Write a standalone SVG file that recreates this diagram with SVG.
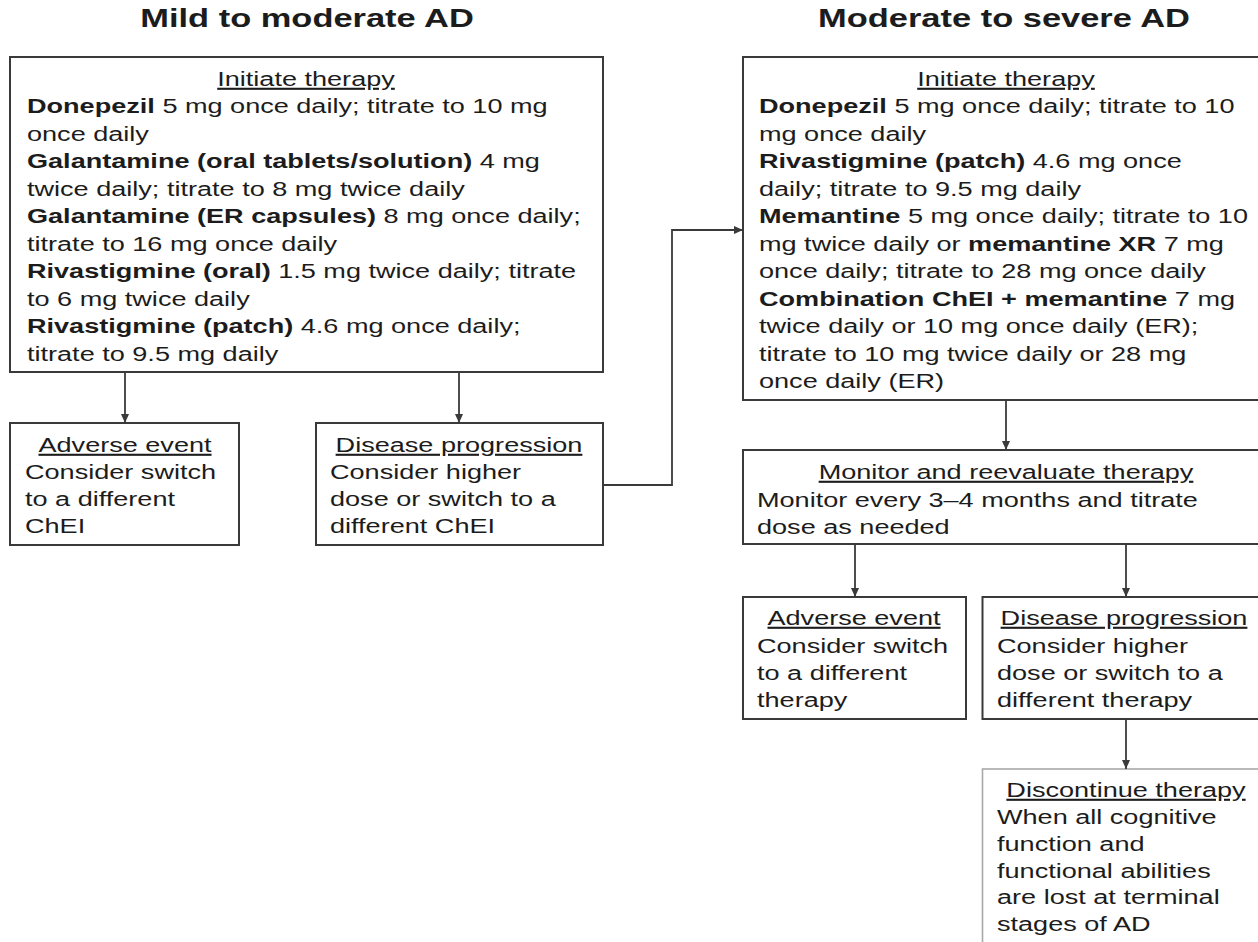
<svg xmlns="http://www.w3.org/2000/svg" width="1258" height="942" viewBox="0 0 1258 942">
<style>
  .bg { fill: #ffffff; }
  .box { fill: #ffffff; stroke: #3a3a3a; stroke-width: 2; }
  .box-light { fill: #ffffff; stroke: #a8a8a8; stroke-width: 1.6; }
  .t { font-family: "Liberation Sans", Arial, sans-serif; font-size: 21px; fill: #1c1c1c; }
  .h { font-family: "Liberation Sans", Arial, sans-serif; font-size: 21px; fill: #1c1c1c; text-anchor: middle; text-decoration: underline; }
  .title { font-family: "Liberation Sans", Arial, sans-serif; font-size: 26.5px; font-weight: 700; fill: #1c1c1c; text-anchor: middle; }
  .b { font-weight: 700; }
  .conn { fill: none; stroke: #3a3a3a; stroke-width: 1.8; }
</style>
<defs>
  <marker id="arrow" markerUnits="userSpaceOnUse" markerWidth="9" markerHeight="8" refX="9" refY="4" orient="auto">
    <path d="M0,0 L9,4 L0,8 z" fill="#3a3a3a"/>
  </marker>
</defs>
<rect class="bg" x="0" y="0" width="1258" height="942"/>

<g id="titles">
  <text class="title" transform="translate(307 27) scale(1.3 1)">Mild to moderate AD</text>
  <text class="title" transform="translate(1004 27) scale(1.3 1)">Moderate to severe AD</text>
</g>

<g id="mild-initiate">
  <rect class="box" x="10" y="57" width="593" height="315"/>
  <text class="h" transform="translate(306 86) scale(1.29 1)">Initiate therapy</text>
  <text class="t" transform="translate(27 113) scale(1.29 1)"><tspan class="b">Donepezil</tspan> 5 mg once daily; titrate to 10 mg</text>
  <text class="t" transform="translate(27 140.5) scale(1.29 1)">once daily</text>
  <text class="t" transform="translate(27 168) scale(1.29 1)"><tspan class="b">Galantamine (oral tablets/solution)</tspan> 4 mg</text>
  <text class="t" transform="translate(27 195.5) scale(1.29 1)">twice daily; titrate to 8 mg twice daily</text>
  <text class="t" transform="translate(27 223) scale(1.29 1)"><tspan class="b">Galantamine (ER capsules)</tspan> 8 mg once daily;</text>
  <text class="t" transform="translate(27 250.5) scale(1.29 1)">titrate to 16 mg once daily</text>
  <text class="t" transform="translate(27 278) scale(1.29 1)"><tspan class="b">Rivastigmine (oral)</tspan> 1.5 mg twice daily; titrate</text>
  <text class="t" transform="translate(27 305.5) scale(1.29 1)">to 6 mg twice daily</text>
  <text class="t" transform="translate(27 333) scale(1.29 1)"><tspan class="b">Rivastigmine (patch)</tspan> 4.6 mg once daily;</text>
  <text class="t" transform="translate(27 360.5) scale(1.29 1)">titrate to 9.5 mg daily</text>
</g>

<g id="mild-adverse">
  <rect class="box" x="10" y="423" width="229" height="122"/>
  <text class="h" transform="translate(125 452) scale(1.29 1)">Adverse event</text>
  <text class="t" transform="translate(25 479) scale(1.29 1)">Consider switch</text>
  <text class="t" transform="translate(25 506) scale(1.29 1)">to a different</text>
  <text class="t" transform="translate(25 533) scale(1.29 1)">ChEI</text>
</g>

<g id="mild-progression">
  <rect class="box" x="316" y="423" width="287" height="122"/>
  <text class="h" transform="translate(459 452) scale(1.29 1)">Disease progression</text>
  <text class="t" transform="translate(330 479) scale(1.29 1)">Consider higher</text>
  <text class="t" transform="translate(330 506) scale(1.29 1)">dose or switch to a</text>
  <text class="t" transform="translate(330 533) scale(1.29 1)">different ChEI</text>
</g>

<g id="severe-initiate">
  <rect class="box" x="743" y="57" width="530" height="343"/>
  <text class="h" transform="translate(1006 86) scale(1.29 1)">Initiate therapy</text>
  <text class="t" transform="translate(759 113) scale(1.29 1)"><tspan class="b">Donepezil</tspan> 5 mg once daily; titrate to 10</text>
  <text class="t" transform="translate(759 140.5) scale(1.29 1)">mg once daily</text>
  <text class="t" transform="translate(759 168) scale(1.29 1)"><tspan class="b">Rivastigmine (patch)</tspan> 4.6 mg once</text>
  <text class="t" transform="translate(759 195.5) scale(1.29 1)">daily; titrate to 9.5 mg daily</text>
  <text class="t" transform="translate(759 223) scale(1.29 1)"><tspan class="b">Memantine</tspan> 5 mg once daily; titrate to 10</text>
  <text class="t" transform="translate(759 250.5) scale(1.29 1)">mg twice daily or <tspan class="b">memantine XR</tspan> 7 mg</text>
  <text class="t" transform="translate(759 278) scale(1.29 1)">once daily; titrate to 28 mg once daily</text>
  <text class="t" transform="translate(759 305.5) scale(1.29 1)"><tspan class="b">Combination ChEI + memantine</tspan> 7 mg</text>
  <text class="t" transform="translate(759 333) scale(1.29 1)">twice daily or 10 mg once daily (ER);</text>
  <text class="t" transform="translate(759 360.5) scale(1.29 1)">titrate to 10 mg twice daily or 28 mg</text>
  <text class="t" transform="translate(759 388) scale(1.29 1)">once daily (ER)</text>
</g>

<g id="severe-monitor">
  <rect class="box" x="743" y="450" width="530" height="94"/>
  <text class="h" transform="translate(1006 479) scale(1.29 1)">Monitor and reevaluate therapy</text>
  <text class="t" transform="translate(757 507) scale(1.29 1)">Monitor every 3–4 months and titrate</text>
  <text class="t" transform="translate(757 534) scale(1.29 1)">dose as needed</text>
</g>

<g id="severe-adverse">
  <rect class="box" x="743" y="597" width="223" height="122"/>
  <text class="h" transform="translate(854 625) scale(1.29 1)">Adverse event</text>
  <text class="t" transform="translate(757 652.5) scale(1.29 1)">Consider switch</text>
  <text class="t" transform="translate(757 680) scale(1.29 1)">to a different</text>
  <text class="t" transform="translate(757 707) scale(1.29 1)">therapy</text>
</g>

<g id="severe-progression">
  <rect class="box" x="982.5" y="597" width="290" height="122"/>
  <text class="h" transform="translate(1124 625) scale(1.29 1)">Disease progression</text>
  <text class="t" transform="translate(997 652.5) scale(1.29 1)">Consider higher</text>
  <text class="t" transform="translate(997 680) scale(1.29 1)">dose or switch to a</text>
  <text class="t" transform="translate(997 707) scale(1.29 1)">different therapy</text>
</g>

<g id="severe-discontinue">
  <rect class="box-light" x="982.5" y="769" width="290" height="200"/>
  <text class="h" transform="translate(1126 797) scale(1.29 1)">Discontinue therapy</text>
  <text class="t" transform="translate(997 824) scale(1.29 1)">When all cognitive</text>
  <text class="t" transform="translate(997 851) scale(1.29 1)">function and</text>
  <text class="t" transform="translate(997 877.5) scale(1.29 1)">functional abilities</text>
  <text class="t" transform="translate(997 904) scale(1.29 1)">are lost at terminal</text>
  <text class="t" transform="translate(997 931) scale(1.29 1)">stages of AD</text>
</g>

<g id="connectors">
  <path class="conn" d="M125 372 V423" marker-end="url(#arrow)"/>
  <path class="conn" d="M459 372 V423" marker-end="url(#arrow)"/>
  <path class="conn" d="M603 485 H672 V230 H743" marker-end="url(#arrow)"/>
  <path class="conn" d="M1006 400 V450" marker-end="url(#arrow)"/>
  <path class="conn" d="M855 544 V597" marker-end="url(#arrow)"/>
  <path class="conn" d="M1126 544 V597" marker-end="url(#arrow)"/>
  <path class="conn" d="M1126 719 V769" marker-end="url(#arrow)"/>
</g>
</svg>
